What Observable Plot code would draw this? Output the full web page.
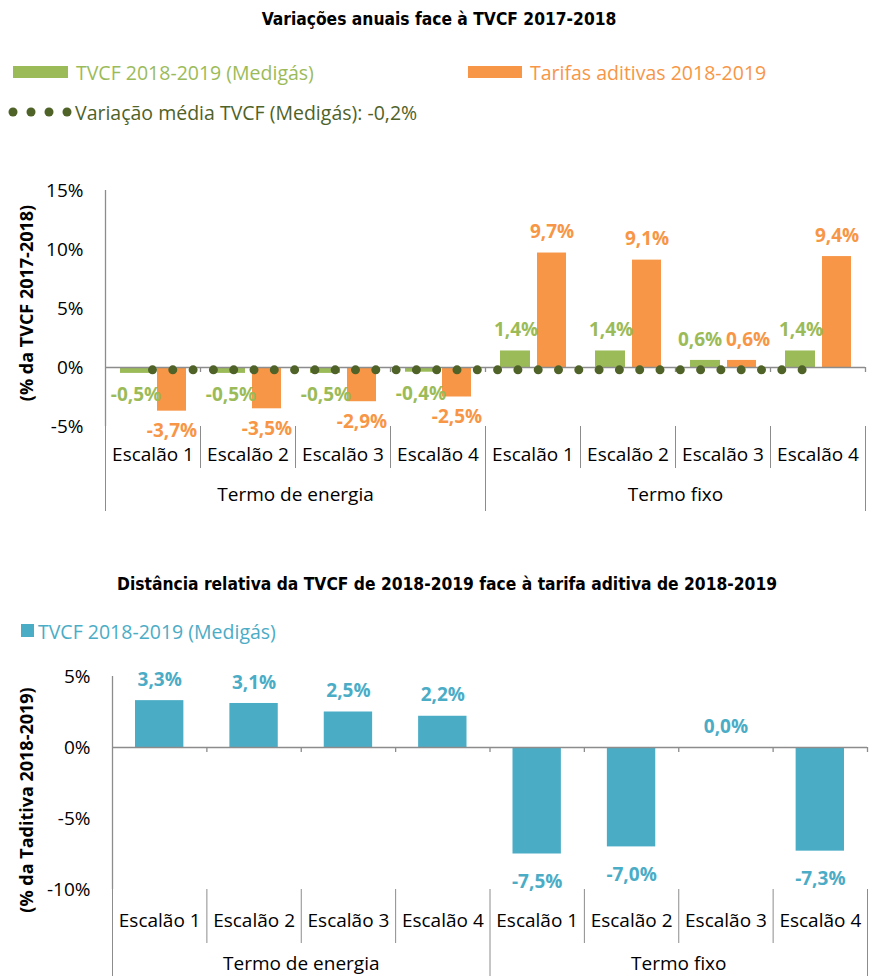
<!DOCTYPE html>
<html>
<head>
<meta charset="utf-8">
<script src="https://cdn.jsdelivr.net/npm/d3@7"></script>
<script src="https://cdn.jsdelivr.net/npm/@observablehq/plot@0.6"></script>
<style>
  body { margin: 0; background: #fff; }
  #page { position: relative; width: 869px; height: 976px; overflow: hidden; font-family: "Open Sans", sans-serif; }
  .abs { position: absolute; white-space: nowrap; }
  .title { font-family: "Liberation Sans Narrow", "DejaVu Sans Condensed", "Open Sans", sans-serif; font-weight: bold; font-size: 17.3px; color: #000; transform: translate(-50%, -50%); }
  .leg { font-size: 19.5px; transform: translateY(-50%); }
  .ytitle { font-weight: bold; font-size: 18px; color: #000; transform: translate(-50%, -50%) rotate(-90deg); }
  .dot { position: absolute; width: 9px; height: 9px; border-radius: 50%; background: #4F6228; transform: translate(-50%, -50%); }
</style>
</head>
<body>
<div id="page">
  <div class="abs title" style="left:439px; top:19px;">Variações anuais face à TVCF 2017-2018</div>
  <div class="abs" style="left:13px; top:66px; width:55px; height:12px; background:#9BBB59;"></div>
  <div class="abs leg" style="left:76px; top:72px; color:#9BBB59;">TVCF 2018-2019 (Medigás)</div>
  <div class="abs" style="left:468px; top:66px; width:54px; height:12px; background:#F79646;"></div>
  <div class="abs leg" style="left:530px; top:72px; color:#F79646;">Tarifas aditivas 2018-2019</div>
  <div class="dot" style="left:13px; top:112px;"></div>
  <div class="dot" style="left:31px; top:112px;"></div>
  <div class="dot" style="left:49px; top:112px;"></div>
  <div class="dot" style="left:67px; top:112px;"></div>
  <div class="abs leg" id="legAvg" style="left:75px; top:112px; color:#4F6228;"></div>
  <div class="abs ytitle" style="left:26px; top:303px;">(% da TVCF 2017-2018)</div>
  <div class="abs" id="chart1" style="left:0; top:180px;"></div>

  <div class="abs title" style="left:447px; top:584px;">Distância relativa da TVCF de 2018-2019 face à tarifa aditiva de 2018-2019</div>
  <div class="abs" style="left:21px; top:624px; width:13px; height:13px; background:#4BACC6;"></div>
  <div class="abs leg" style="left:38px; top:631px; color:#4BACC6;">TVCF 2018-2019 (Medigás)</div>
  <div class="abs ytitle" style="left:26px; top:800px;">(% da Taditiva 2018-2019)</div>
  <div class="abs" id="chart2" style="left:0; top:660px;"></div>
</div>
<script>
// ---- data ----
const escaloes = ["Escalão 1", "Escalão 2", "Escalão 3", "Escalão 4"];
const termos = ["Termo de energia", "Termo fixo"];
const tvcf1819 = [-0.5, -0.5, -0.5, -0.4, 1.4, 1.4, 0.6, 1.4];
const tarifasAditivas = [-3.7, -3.5, -2.9, -2.5, 9.7, 9.1, 0.6, 9.4];
const variacaoMedia = -0.2;
const distancia = [3.3, 3.1, 2.5, 2.2, -7.5, -7.0, 0.0, -7.3];
const yTicks1 = [-5, 0, 5, 10, 15];
const yTicks2 = [-10, -5, 0, 5];

const GREEN = "#9BBB59", ORANGE = "#F79646", OLIVE = "#4F6228", BLUE = "#4BACC6", GRAY = "#8c8c8c";

const fmt = v => v.toFixed(1).replace(".", ",") + "%";
document.getElementById("legAvg").textContent = "Variação média TVCF (Medigás): " + fmt(variacaoMedia);

const rows = termos.flatMap((t, g) => escaloes.map((e, k) => {
  const i = g * escaloes.length + k;
  return {i, termo: t, escalao: e, green: tvcf1819[i], orange: tarifasAditivas[i], blue: distancia[i]};
}));
const idx = rows.map(d => d.i);
const groups = termos.map(t => {
  const is = rows.filter(d => d.termo === t).map(d => d.i);
  return {termo: t, lo: d3.min(is), hi: d3.max(is), mid: d3.mean(is)};
});
const outer = Array.from(new Set(groups.flatMap(g => [g.lo - 0.5, g.hi + 0.5])));
const inner = idx.map(i => i + 0.5).filter(b => !outer.includes(b));
const allBounds = idx.map(i => i + 0.5);

function categoryAxis({labelPad, groupPad, innerSize, outerSize}) {
  return [
    Plot.axisX({ticks: inner, tickSize: innerSize, tickFormat: () => "", stroke: GRAY, label: null}),
    Plot.axisX({ticks: outer, tickSize: outerSize, tickFormat: () => "", stroke: GRAY, label: null}),
    Plot.axisX({ticks: idx, tickSize: 0, tickPadding: labelPad, tickFormat: i => rows[i].escalao, fill: "#000", label: null}),
    Plot.axisX({ticks: groups.map(g => g.mid), tickSize: 0, tickPadding: groupPad,
      tickFormat: m => groups.find(g => g.mid === m).termo, fill: "#000", label: null}),
    Plot.ruleY([0], {stroke: GRAY, strokeWidth: 1.3}),
    Plot.ruleX(allBounds, {y1: 0, y2: 0, insetBottom: -5, stroke: GRAY, strokeWidth: 1.3}),
    Plot.ruleX([groups[0].lo - 0.5], {stroke: GRAY, strokeWidth: 1.3})
  ];
}

function valueLabels(key, color, {dx = 0, dyPos, dyNeg, dxSmall = dx}) {
  const common = {x: "i", y: key, text: d => fmt(d[key]), fill: color, fontWeight: "bold", fontSize: 19};
  return [
    Plot.text(rows.filter(d => d[key] >= 1), {...common, dx, dy: dyPos}),
    Plot.text(rows.filter(d => d[key] >= 0 && d[key] < 1), {...common, dx: dxSmall, dy: dyPos}),
    Plot.text(rows.filter(d => d[key] < 0), {...common, dx, dy: dyNeg})
  ];
}

const baseStyle = {fontFamily: "Open Sans, sans-serif", fontSize: "19px", color: "#000", overflow: "visible", background: "transparent"};

const chart1 = Plot.plot({
  width: 869, height: 340,
  marginTop: 10, marginBottom: 94, marginLeft: 105, marginRight: 4,
  style: baseStyle,
  x: {type: "linear", domain: [-0.5, 7.5], label: null},
  y: {domain: [-5, 15], label: null},
  marks: [
    Plot.rect(rows, {x1: d => d.i - 0.5, x2: d => d.i + 0.5, y1: 0, y2: "green", insetLeft: 15, insetRight: 50, fill: GREEN}),
    Plot.rect(rows, {x1: d => d.i - 0.5, x2: d => d.i + 0.5, y1: 0, y2: "orange", insetLeft: 52, insetRight: 14, fill: ORANGE}),
    Plot.axisY({ticks: yTicks1, tickSize: 0, tickPadding: 22, tickFormat: d => d + "%", label: null, fill: "#000"}),
    ...categoryAxis({labelPad: 21, groupPad: 61, innerSize: 42, outerSize: 85}),
    Plot.ruleY([variacaoMedia], {x1: idx[0], x2: idx[idx.length - 1], stroke: OLIVE, strokeWidth: 9,
      strokeDasharray: "0 20.3", strokeLinecap: "round"}),
    ...valueLabels("green", GREEN, {dx: -17, dxSmall: -23, dyPos: -21, dyNeg: 22}),
    ...valueLabels("orange", ORANGE, {dx: 19, dxSmall: 25, dyPos: -21, dyNeg: 20})
  ]
});
document.getElementById("chart1").appendChild(chart1);

const chart2 = Plot.plot({
  width: 869, height: 316,
  marginTop: 16, marginBottom: 87, marginLeft: 112, marginRight: 2,
  style: baseStyle,
  x: {type: "linear", domain: [-0.5, 7.5], label: null},
  y: {domain: [-10, 5], label: null},
  marks: [
    Plot.rect(rows, {x1: d => d.i - 0.5, x2: d => d.i + 0.5, y1: 0, y2: "blue", insetLeft: 23, insetRight: 23, fill: BLUE}),
    Plot.axisY({ticks: yTicks2, tickSize: 0, tickPadding: 22, tickFormat: d => d + "%", label: null, fill: "#000"}),
    ...categoryAxis({labelPad: 24, groupPad: 67, innerSize: 54, outerSize: 90}),
    ...valueLabels("blue", BLUE, {dx: 0, dyPos: -21, dyNeg: 28})
  ]
});
document.getElementById("chart2").appendChild(chart2);
</script>
</body>
</html>
